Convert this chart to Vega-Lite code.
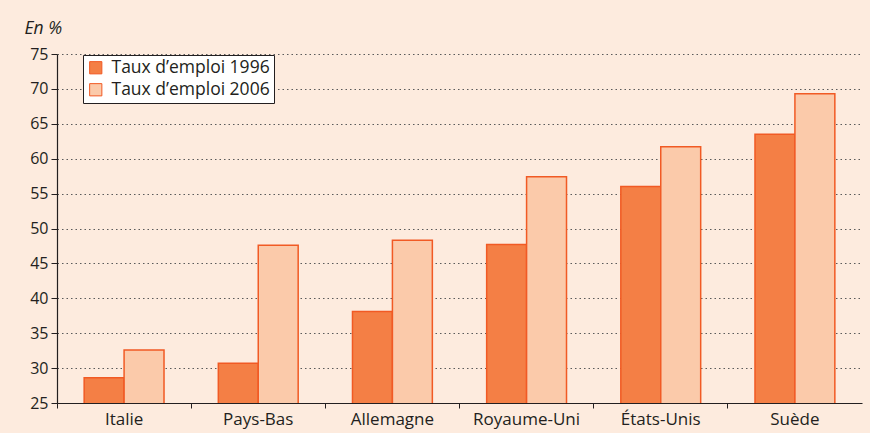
{
  "$schema": "https://vega.github.io/schema/vega-lite/v6.json",
  "autosize": {"type": "none"},
  "width": 805,
  "height": 349,
  "padding": {"left": 57, "top": 54, "right": 8, "bottom": 30},
  "background": "#FDEBDE",
  "config": {
    "view": {"stroke": null},
    "font": "Open Sans"
  },
  "data": {
    "values": [
      {"pays": "Italie", "serie": "Taux d’emploi 1996", "taux": 28.6},
      {"pays": "Italie", "serie": "Taux d’emploi 2006", "taux": 32.6},
      {"pays": "Pays-Bas", "serie": "Taux d’emploi 1996", "taux": 30.7},
      {"pays": "Pays-Bas", "serie": "Taux d’emploi 2006", "taux": 47.6},
      {"pays": "Allemagne", "serie": "Taux d’emploi 1996", "taux": 38.1},
      {"pays": "Allemagne", "serie": "Taux d’emploi 2006", "taux": 48.3},
      {"pays": "Royaume-Uni", "serie": "Taux d’emploi 1996", "taux": 47.7},
      {"pays": "Royaume-Uni", "serie": "Taux d’emploi 2006", "taux": 57.4},
      {"pays": "États-Unis", "serie": "Taux d’emploi 1996", "taux": 56.0},
      {"pays": "États-Unis", "serie": "Taux d’emploi 2006", "taux": 61.7},
      {"pays": "Suède", "serie": "Taux d’emploi 1996", "taux": 63.5},
      {"pays": "Suède", "serie": "Taux d’emploi 2006", "taux": 69.3}
    ]
  },
  "mark": {"type": "bar", "stroke": "#F15A24", "strokeWidth": 1.5, "clip": true},
  "encoding": {
    "x": {
      "field": "pays",
      "type": "nominal",
      "sort": ["Italie", "Pays-Bas", "Allemagne", "Royaume-Uni", "États-Unis", "Suède"],
      "scale": {"paddingInner": 0, "paddingOuter": 0},
      "axis": {
        "title": null,
        "labelAngle": 0,
        "bandPosition": 0,
        "labelFontSize": 17,
        "labelColor": "#231F20",
        "labelPadding": 3,
        "tickSize": 5,
        "tickColor": "#231F20",
        "domainColor": "#231F20",
        "domainWidth": 1.2,
        "grid": false
      }
    },
    "xOffset": {
      "field": "serie",
      "type": "nominal",
      "scale": {"paddingInner": 0, "paddingOuter": 0.68}
    },
    "y": {
      "field": "taux",
      "type": "quantitative",
      "scale": {"domain": [25, 75], "nice": false, "zero": false},
      "axis": {
        "title": "En %",
        "titleAngle": 0,
        "titleFontStyle": "italic",
        "titleFontWeight": "normal",
        "titleFontSize": 17.5,
        "titleColor": "#231F20",
        "titleAlign": "left",
        "titleBaseline": "alphabetic",
        "titleX": -33,
        "titleY": -21,
        "values": [25, 30, 35, 40, 45, 50, 55, 60, 65, 70, 75],
        "labelFontSize": 16,
        "labelColor": "#231F20",
        "labelPadding": 3,
        "tickSize": 6,
        "tickColor": "#231F20",
        "domainColor": "#231F20",
        "domainWidth": 1.2,
        "grid": true,
        "gridColor": "#5A5A5A",
        "gridDash": [1.5, 3],
        "gridWidth": 1.2
      }
    },
    "color": {
      "field": "serie",
      "type": "nominal",
      "scale": {"range": ["#F47F45", "#FBCAAA"]},
      "legend": {
        "title": null,
        "orient": "none",
        "legendX": 26,
        "legendY": 1,
        "fillColor": "#FFFFFF",
        "strokeColor": "#231F20",
        "padding": 4,
        "symbolType": "square",
        "symbolSize": 150,
        "symbolStrokeColor": "#F15A24",
        "symbolStrokeWidth": 1,
        "labelFontSize": 17.5,
        "labelColor": "#231F20",
        "labelOffset": 7,
        "rowPadding": 3
      }
    }
  }
}
